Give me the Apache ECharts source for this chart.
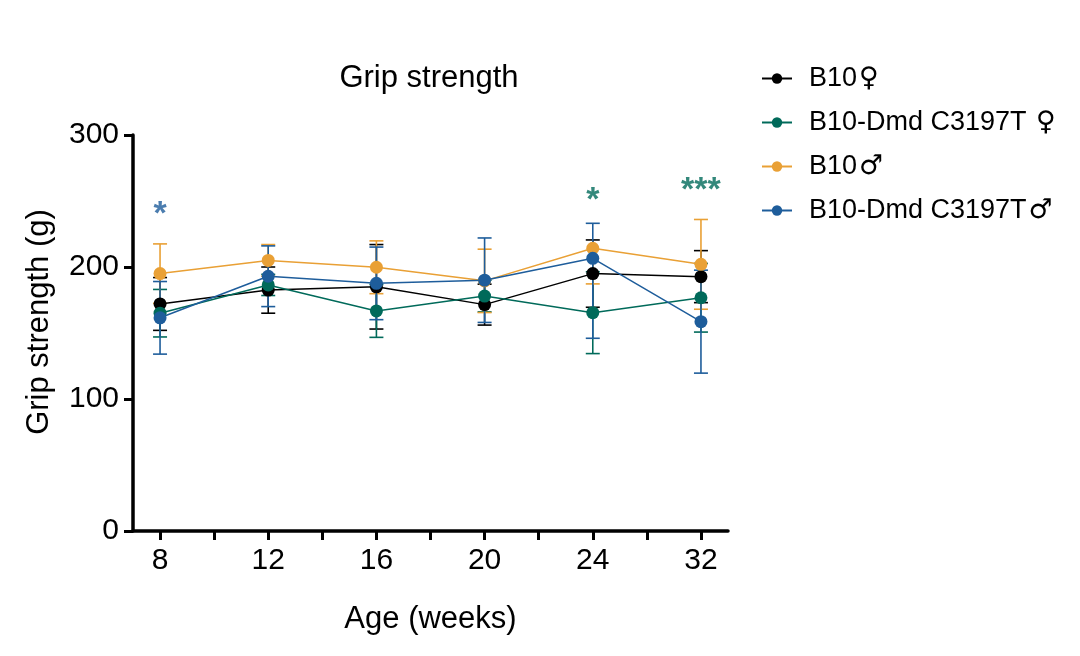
<!DOCTYPE html>
<html>
<head>
<meta charset="utf-8">
<script src="https://cdn.jsdelivr.net/npm/echarts@6/dist/echarts.min.js"></script>
<style>
html,body{margin:0;padding:0;background:#fff;}
#chart{width:1080px;height:656px;}
</style>
</head>
<body>
<div id="chart"></div>
<script>
// ---- data ----
const xLabels = ['8', '12', '16', '20', '24', '32'];
const seriesNames = ['B10\u2640', 'B10-Dmd C3197T \u2640', 'B10\u2642', 'B10-Dmd C3197T\u2642'];

const b10F      = [172, 182.5, 185, 171.5, 195, 192.7];
const b10FUp    = [20, 17.5, 32, 15.5, 25.5, 19.7];
const b10FDown  = [20, 17.5, 32, 15.5, 25.5, 19.7];

const dmdF      = [165, 186.4, 166.7, 178, 165.4, 176.7];
const dmdFUp    = [18, 8, 20, 12, 31, 26];
const dmdFDown  = [18, 8, 20, 12, 31, 26];

const b10M      = [195, 205, 199.8, 189.5, 214.2, 202];
const b10MUp    = [22.5, 12, 20, 24, 0, 34];
const b10MDown  = [22.5, 12, 20, 24, 27, 34];

const dmdM      = [161.5, 193, 187.6, 190, 206.6, 158.6];
const dmdMUp    = [27.5, 23, 27.5, 32, 26.5, 39];
const dmdMDown  = [27.5, 23, 27.5, 32, 60.6, 39];

// significance marks: [x index, y value, text, group index]
const sigMarks = [
  [0, 240, '*', 3],
  [4, 250.4, '*', 1],
  [5, 258, '***', 1]
];

const colors = ['#000000', '#006A5A', '#E9A035', '#1E5D9B'];
const groups = [
  [b10F, b10FUp, b10FDown],
  [dmdF, dmdFUp, dmdFDown],
  [b10M, b10MUp, b10MDown],
  [dmdM, dmdMUp, dmdMDown]
];

const FONT = 'Liberation Sans, Arial, Helvetica, sans-serif';

const series = [];
groups.forEach((g, gi) => {
  const [mean, up, down] = g;
  series.push({
    type: 'custom',
    name: seriesNames[gi] + ' err',
    silent: true,
    data: mean.map((m, i) => [i, m, up[i], down[i]]),
    encode: { x: 0, y: 1 },
    renderItem: function (params, api) {
      const x = api.value(0), m = api.value(1), u = api.value(2), d = api.value(3);
      const ph = api.coord([x, m + u]);
      const pl = api.coord([x, m - d]);
      const st = { stroke: colors[gi], lineWidth: 1.6, fill: null };
      const cw = 7;
      const children = [{ type: 'line', shape: { x1: ph[0], y1: ph[1], x2: pl[0], y2: pl[1] }, style: st }];
      if (u > 0) children.push({ type: 'line', shape: { x1: ph[0] - cw, y1: ph[1], x2: ph[0] + cw, y2: ph[1] }, style: st });
      if (d > 0) children.push({ type: 'line', shape: { x1: pl[0] - cw, y1: pl[1], x2: pl[0] + cw, y2: pl[1] }, style: st });
      return { type: 'group', children: children };
    }
  });
  series.push({
    type: 'line',
    name: seriesNames[gi],
    data: mean.map((m, i) => [i, m]),
    symbol: 'circle',
    symbolSize: 13,
    showAllSymbol: true,
    lineStyle: { color: colors[gi], width: 1.5 },
    itemStyle: { color: colors[gi] },
    emphasis: { disabled: true }
  });
});

series.push({
  type: 'scatter',
  name: 'sig',
  symbolSize: 0,
  silent: true,
  data: sigMarks.map(s => ({
    value: [s[0], s[1]],
    label: {
      show: true, position: 'inside', formatter: s[2],
      color: colors[s[3]], fontSize: 34, fontWeight: 'bold', fontFamily: FONT
    }
  }))
});

const chart = echarts.init(document.getElementById('chart'), null, { renderer: 'canvas' });
chart.setOption({
  animation: false,
  backgroundColor: '#ffffff',
  grid: { left: 133, right: 352, top: 135, bottom: 125, containLabel: false },
  graphic: [{
    type: 'text', x: 429, y: 78,
    style: { text: 'Grip strength', fontSize: 31, fontFamily: FONT, fill: '#000', align: 'center', verticalAlign: 'middle' }
  }],
  legend: {
    data: seriesNames,
    orient: 'vertical',
    left: 756, top: 60,
    itemWidth: 30, itemHeight: 13,
    itemGap: 17,
    formatter: function (name) {
      const m = name.match(/^(.*?)([\u2640\u2642])$/);
      if (!m) return '{t|' + name + '}';
      return '{t|' + m[1] + '}{s|' + m[2] + '}';
    },
    textStyle: {
      fontSize: 27, fontFamily: FONT, color: '#000', lineHeight: 26, padding: [0, 0, 0, 12],
      rich: {
        t: { fontSize: 27, fontFamily: FONT, color: '#000', lineHeight: 26 },
        s: { fontSize: 27, fontFamily: 'DejaVu Sans', color: '#000', lineHeight: 26, padding: [0, 0, 0, 2] }
      }
    },
    selectedMode: false
  },
  xAxis: {
    type: 'value',
    min: -0.25, max: 5.25,
    name: 'Age (weeks)',
    nameLocation: 'middle',
    nameGap: 73,
    nameTextStyle: { fontSize: 31, fontFamily: FONT, color: '#000' },
    axisLine: { onZero: false, lineStyle: { color: '#000', width: 3.5 } },
    axisTick: { show: true, length: 9, lineStyle: { color: '#000', width: 3 },
      customValues: [0, 0.5, 1, 1.5, 2, 2.5, 3, 3.5, 4, 4.5, 5] },
    axisLabel: { fontSize: 30, fontFamily: FONT, color: '#000', margin: 15,
      customValues: [0, 1, 2, 3, 4, 5],
      formatter: v => xLabels[Math.round(v)] },
    splitLine: { show: false }
  },
  yAxis: {
    type: 'value',
    min: 0, max: 300, interval: 100,
    name: 'Grip strength (g)',
    nameLocation: 'middle',
    nameGap: 78,
    nameRotate: 90,
    nameTextStyle: { fontSize: 31, fontFamily: FONT, color: '#000', padding: [0, 0, 0, 22] },
    axisLine: { show: true, onZero: false, lineStyle: { color: '#000', width: 3.5 } },
    axisTick: { show: true, length: 9, lineStyle: { color: '#000', width: 3 } },
    axisLabel: { fontSize: 30, fontFamily: FONT, color: '#000', margin: 14 },
    splitLine: { show: false }
  },
  series: series
});
</script>
</body>
</html>
